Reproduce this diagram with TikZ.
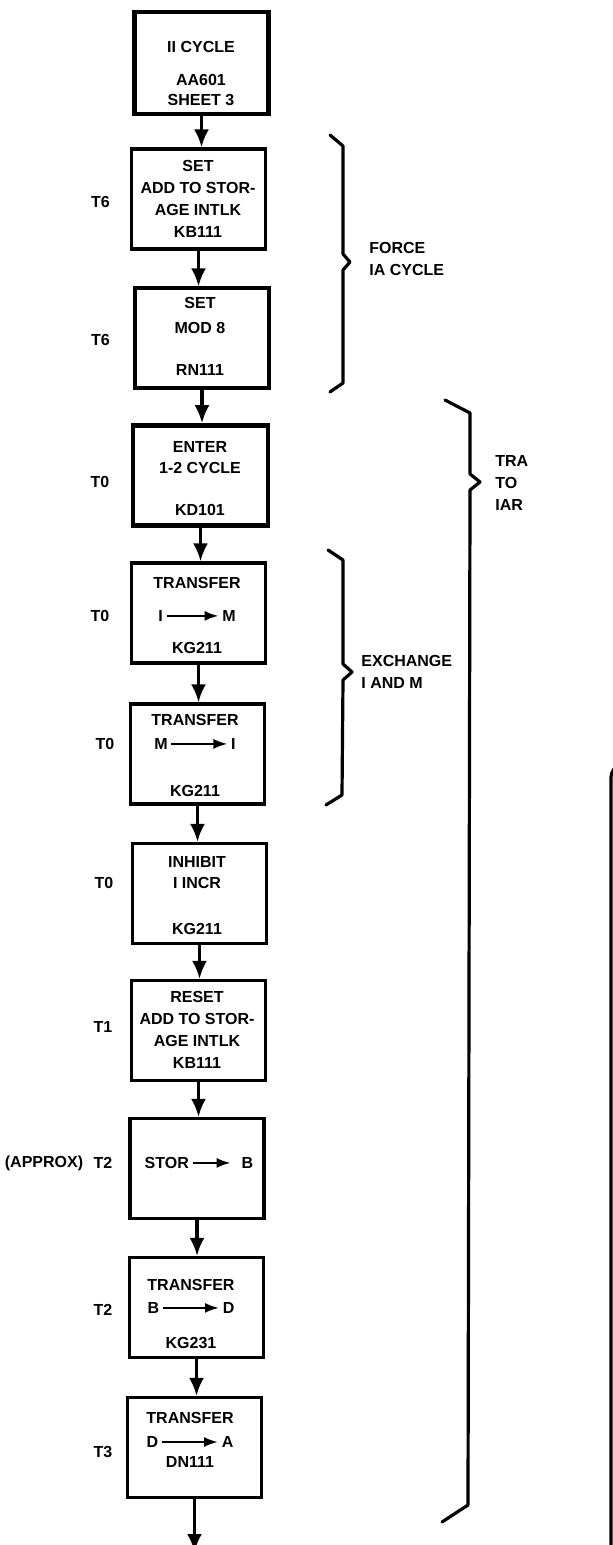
\documentclass[tikz,border=0pt]{standalone}
\usepackage{fontspec}
\setmainfont{Liberation Sans}
\usepackage{tikz}
\usetikzlibrary{arrows.meta}
\tikzset{
    blk/.style={draw, line width=1.6pt, minimum width=67pt, minimum height=50pt, inner sep=0pt},
    heavyblk/.style={blk, line width=2.3pt},
    boxtext/.style={align=center, inner sep=0pt, font=\fontsize{8}{11}\selectfont\bfseries},
    timelabel/.style={inner sep=0pt, font=\fontsize{8}{11}\selectfont\bfseries},
    bracetext/.style={align=left, anchor=west, inner sep=0pt, font=\fontsize{8}{11}\selectfont\bfseries},
    flow/.style={line width=1.6pt, -{Latex[length=9pt, width=7.5pt]}},
    brace/.style={line width=1.6pt, line join=round, line cap=round},
    xarrow/.style={line width=1.1pt, -{Latex[length=7pt, width=5pt]}}
}
\newcommand{\xarr}[1][26pt]{\tikz[baseline=-2.8pt]\draw[xarrow] (0pt,0pt) -- (#1,0pt);}

\begin{document}
\begin{tikzpicture}[x=0.5pt, y=-0.5pt]
        \useasboundingbox (0,0) rectangle (613,1545);

        % boxes
        \node[heavyblk, minimum height=51pt] (b1) at (201.5,63) {};
        \node[blk] (b2) at (198.5,199) {};
        \node[blk] (b3) at (202,338) {};
        \node[heavyblk, minimum width=67.5pt] (b4) at (200.5,475.5) {};
        \node[blk] (b5) at (198.5,613) {};
        \node[blk] (b6) at (197.5,754) {};
        \node[blk] (b7) at (199.5,893.5) {};
        \node[blk] (b8) at (198.5,1030.5) {};
        \node[blk] (b9) at (197,1168.5) {};
        \node[blk] (b10) at (196.5,1307.5) {};
        \node[blk] (b11) at (194.5,1447.5) {};

        % box texts
        \node[boxtext] (x1) at (201,73.5) {II CYCLE\\[5.5pt] AA601\\[-1pt] SHEET 3};
        \node[boxtext] (x2) at (198,198.5) {SET\\ ADD TO STOR-\\ AGE INTLK\\ KB111};
        \node[boxtext] (x3) at (200,336.5) {SET\\[1.5pt] MOD 8\\[10pt] RN111};
        \node[boxtext] (x4) at (200,478.5) {ENTER\\[-0.5pt] 1-2 CYCLE\\[10pt] KD101};
        \node[boxtext] (x5) at (197,615.5) {TRANSFER\\[5.5pt] I\,\xarr\,M\\[5pt] KG211};
        \node[boxtext] (x6) at (195,755.5) {TRANSFER\\[1pt] M\,\xarr[28pt]\,I\\[12.5pt] KG211};
        \node[boxtext] (x7) at (197,895.5) {INHIBIT\\[-0.5pt] I INCR\\[12pt] KG211};
        \node[boxtext] (x8) at (197,1030) {RESET\\ ADD TO STOR-\\ AGE INTLK\\ KB111};
        \node[boxtext] (x9) at (199,1163) {STOR\,\xarr[19pt]\hspace{5pt}B};
        \node[boxtext] (x10) at (191,1314) {TRANSFER\\[0.5pt] B\,\xarr[28pt]\,D\\[6.5pt] KG231};
        \node[boxtext] (x11) at (190,1440) {TRANSFER\\[1pt] D\,\xarr[28pt]\,A\\[-1pt] DN111};

        % flow
        \draw[flow] (b1.south) -- (b1.south |- b2.north);
        \draw[flow] (b2.south) -- (b2.south |- b3.north);
        \draw[flow] (b3.south) -- (b3.south |- b4.north);
        \draw[flow] (b4.south) -- (b4.south |- b5.north);
        \draw[flow] (b5.south) -- (b5.south |- b6.north);
        \draw[flow] (b6.south) -- (b6.south |- b7.north);
        \draw[flow] (b7.south) -- (b7.south |- b8.north);
        \draw[flow] (b8.south) -- (b8.south |- b9.north);
        \draw[flow] (b9.south) -- (b9.south |- b10.north);
        \draw[flow] (b10.south) -- (b10.south |- b11.north);
        \coordinate (out) at (194.5,1552);
        \draw[flow] (b11.south) -- (b11.south |- out);

        % times
        \node[timelabel] (t1) at (100.5,202) {T6};
        \node[timelabel] (t2) at (100.5,340) {T6};
        \node[timelabel] (t3) at (100,482) {T0};
        \node[timelabel] (t4) at (100,616) {T0};
        \node[timelabel] (t5) at (105,744) {T0};
        \node[timelabel] (t6) at (104,883) {T0};
        \node[timelabel] (t7) at (103,1027) {T1};
        \node[timelabel] (t8) at (103,1163) {T2};
        \node[timelabel] (approx) at (44,1163) {(APPROX)};
        \node[timelabel] (t9) at (103,1310) {T2};
        \node[timelabel] (t10) at (103,1452) {T3};

        % braces
        \draw[brace] (330,135) -- (343,146) -- (343,254) -- (350,262) -- (343,270) -- (343,383) -- (330,392);
        \draw[brace] (328,550) -- (343,560) -- (343,664) -- (352,672) -- (343,680) -- (342,795) -- (326,805);
        \draw[brace] (445,400) -- (470,413) -- (470,474) -- (480,482) -- (470,490) -- (468,1505) -- (442,1522);
        \node[bracetext] (force) at (369,258.5) {FORCE\\ IA CYCLE};
        \node[bracetext] (exch) at (361,671.5) {EXCHANGE\\ I AND M};
        \node[bracetext] (iar) at (495,482.5) {TRA\\ TO\\ IAR};

        % edge of the next sheet part
        \draw[line width=1.6pt, rounded corners=2pt] (614,769) -- (611,773) -- (611,1545);
    \end{tikzpicture}
\end{document}
